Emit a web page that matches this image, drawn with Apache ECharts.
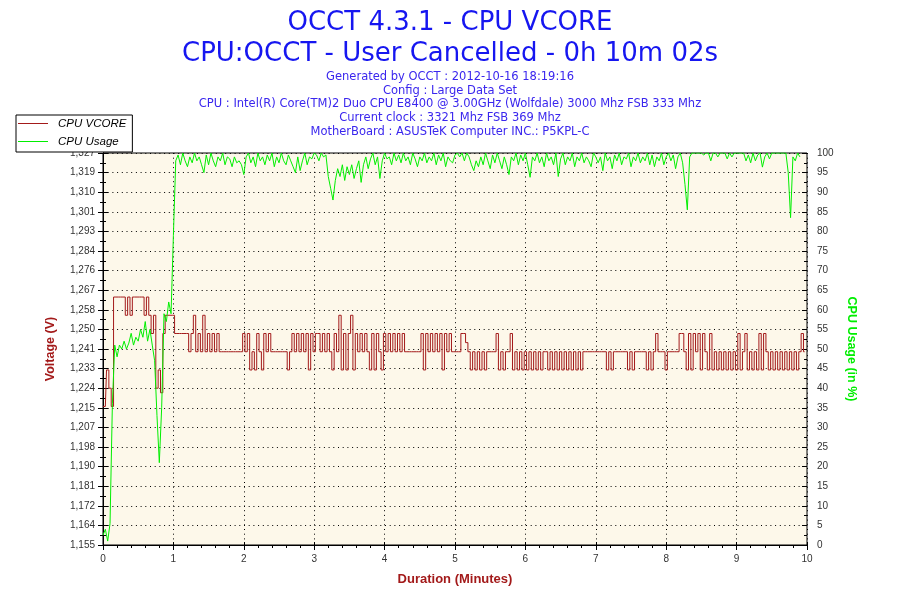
<!DOCTYPE html>
<html>
<head>
<meta charset="utf-8">
<script src="https://cdn.jsdelivr.net/npm/echarts@6/dist/echarts.min.js"></script>
<style>
html,body{margin:0;padding:0;background:#fff;}
#chart{width:900px;height:600px;}
</style>
</head>
<body>
<div id="chart"></div>
<script>
// ---- Data ----
const titleLines = ['OCCT 4.3.1 - CPU VCORE', 'CPU:OCCT - User Cancelled - 0h 10m 02s'];
const infoLines = [
  'Generated by OCCT : 2012-10-16 18:19:16',
  'Config : Large Data Set',
  'CPU : Intel(R) Core(TM)2 Duo CPU E8400 @ 3.00GHz (Wolfdale) 3000 Mhz FSB 333 Mhz',
  'Current clock : 3321 Mhz FSB 369 Mhz',
  'MotherBoard : ASUSTeK Computer INC.: P5KPL-C'
];
const seriesNames = ['CPU VCORE', 'CPU Usage'];
const sampleSeconds = 2;   // one reading every 2 seconds
const xTickLabels = ['0','1','2','3','4','5','6','7','8','9','10'];
const voltTickLabels = ['1,155','1,164','1,172','1,181','1,190','1,198','1,207','1,215','1,224','1,233',
  '1,241','1,250','1,258','1,267','1,276','1,284','1,293','1,301','1,310','1,319','1,327'];
const voltMin = 1.1552, voltMax = 1.3272, voltStep = 0.0086;
const usageTickLabels = ['0','5','10','15','20','25','30','35','40','45','50','55','60','65','70','75','80','85','90','95','100'];

// CPU VCORE (V)
const vcore = [
  1.216,1.216,1.232,1.224,1.216,1.264,1.264,1.264,1.264,1.264,
  1.256,1.264,1.256,1.264,1.264,1.264,1.264,1.264,1.256,1.264,
  1.256,1.248,1.256,1.224,1.232,1.222,1.248,1.256,1.256,1.256,
  1.256,1.248,1.248,1.248,1.248,1.248,1.248,1.240,1.248,1.256,
  1.240,1.248,1.240,1.256,1.240,1.248,1.240,1.248,1.240,1.248,
  1.240,1.240,1.240,1.240,1.240,1.240,1.240,1.240,1.240,1.240,
  1.248,1.240,1.248,1.232,1.240,1.232,1.248,1.240,1.232,1.248,
  1.240,1.248,1.240,1.240,1.240,1.240,1.240,1.240,1.240,1.232,
  1.240,1.248,1.240,1.248,1.240,1.248,1.240,1.248,1.232,1.248,
  1.240,1.248,1.248,1.240,1.248,1.240,1.248,1.240,1.232,1.248,
  1.240,1.256,1.232,1.248,1.232,1.248,1.256,1.232,1.248,1.240,
  1.248,1.240,1.248,1.240,1.232,1.248,1.232,1.248,1.240,1.232,
  1.248,1.240,1.248,1.240,1.248,1.240,1.248,1.240,1.248,1.240,
  1.240,1.240,1.240,1.240,1.240,1.240,1.248,1.232,1.248,1.240,
  1.248,1.240,1.248,1.240,1.248,1.232,1.248,1.240,1.248,1.240,
  1.240,1.240,1.240,1.248,1.248,1.244,1.240,1.232,1.240,1.232,
  1.240,1.232,1.240,1.232,1.240,1.240,1.240,1.240,1.248,1.232,
  1.240,1.232,1.240,1.240,1.248,1.232,1.240,1.232,1.240,1.232,
  1.240,1.232,1.240,1.232,1.240,1.232,1.240,1.232,1.240,1.240,
  1.232,1.240,1.232,1.240,1.232,1.240,1.232,1.240,1.232,1.240,
  1.232,1.240,1.232,1.240,1.232,1.240,1.240,1.240,1.240,1.240,
  1.240,1.240,1.240,1.240,1.240,1.232,1.240,1.232,1.240,1.240,
  1.240,1.240,1.240,1.240,1.232,1.240,1.232,1.240,1.240,1.240,
  1.240,1.240,1.232,1.240,1.232,1.240,1.248,1.240,1.240,1.240,
  1.232,1.240,1.240,1.240,1.240,1.240,1.248,1.248,1.240,1.232,
  1.248,1.232,1.248,1.240,1.248,1.232,1.248,1.240,1.232,1.248,
  1.232,1.240,1.232,1.240,1.232,1.240,1.232,1.240,1.232,1.240,
  1.232,1.248,1.232,1.240,1.248,1.232,1.240,1.232,1.240,1.232,
  1.248,1.232,1.248,1.240,1.232,1.240,1.232,1.240,1.232,1.240,
  1.232,1.240,1.232,1.240,1.232,1.240,1.232,1.240,1.248,1.240
];

// CPU Usage (%)
const usage = [
  2.5,4,1,5.5,36,51,48,51,50,52,
  50,51.5,54,51,53,52,55,53,57,52,
  55,51,47,33,21,35,59,57,62,59,
  79,98,99.5,97,100,98,96.5,99,97.5,100,
  98,99,97,95,99.5,97,100,98,96.5,99,
  98,100,97,99,98.5,96.5,99,97.5,98,97,
  94.5,99,100,97.5,99,96.5,100,98,99,97,
  99.5,98,100,96.5,99,97.5,100,98,97,99.5,
  98,96.5,95,99,95.5,98,100,97,99,98.5,
  100,99.5,98,100,99,99.5,94,91,88,93,
  96,94,97,93,96.5,94.5,97,93.5,96,98,
  92.5,97,99,96,98.5,100,97,99,93.5,98,
  100,98.5,99,97,100,98,99.5,97.5,100,98,
  99,97,100,98.5,96.5,99,98,100,97.5,99,
  98,100,97,99.5,98,100,96.5,99,98,97.5,
  99.5,100,99,100,98,100,99,97,95.5,98,
  96.5,99,97,100,98,96,99.5,97.5,100,98,
  96,99,97,94.5,99,98,100,97,99.5,98,
  100,97,93.8,99,98,100,97.5,99,96.5,100,
  98,99,97,100,94,98.5,100,97,99,98,
  100,96.5,99,98,100,97.5,99,98,96.5,100,
  99,97.5,99,95.5,100,98,99,96,99.5,98,
  100,97,99,98.5,100,96.5,99,98,100,97.5,
  99,98,100,97,99.5,96.5,99,98,100,97,
  99,100,98,99.5,96,99,100,97.5,92,85.5,
  99,100,100,100,100,100,99.5,100,100,98,
  100,100,99,100,100,100,98.5,100,99,100,
  100,100,100,100,98,99.5,97.5,100,98,99.5,
  100,96.4,99,100,98.5,100,100,100,100,100,
  100,100,95,83.5,99,98,100,99
];

// ---- Build chart ----
const toMinutes = i => i * sampleSeconds / 60;
const vcoreData = vcore.map((v, i) => [toMinutes(i), v]);
const usageData = usage.map((v, i) => [toMinutes(i), v]);

const red = '#a31a1a';
const green = '#00ee00';
const labelFont = 'Liberation Sans';
const dotted = { type: [1, 3.7], color: '#000', width: 1 };

const chart = echarts.init(document.getElementById('chart'), null, { renderer: 'canvas' });
chart.setOption({
  animation: false,
  backgroundColor: '#ffffff',
  title: [
    {
      text: titleLines.join('\n'),
      left: 'center', top: 3,
      textStyle: { fontFamily: 'DejaVu Sans', fontSize: 26, fontWeight: 'normal', color: '#1616f0', lineHeight: 31 }
    },
    {
      text: infoLines.join('\n'),
      left: 'center', top: 65,
      textStyle: { fontFamily: 'DejaVu Sans', fontSize: 11.5, fontWeight: 'normal', color: '#3a26ee', lineHeight: 13.8 }
    }
  ],
  legend: {
    data: seriesNames,
    orient: 'vertical',
    left: 16, top: 115,
    backgroundColor: '#ffffff',
    borderColor: '#000', borderWidth: 1, borderRadius: 0,
    padding: [2, 6, 4, 2],
    itemGap: 5,
    itemWidth: 30, itemHeight: 1,
    icon: 'rect',
    textStyle: { fontFamily: labelFont, fontSize: 11.5, fontStyle: 'italic', color: '#000',
      padding: [0, 0, 0, 5], lineHeight: 13 },
    z: 10
  },
  grid: {
    left: 103, right: 93, top: 153, bottom: 55,
    show: true, backgroundColor: '#fdf8ea', borderColor: '#000', borderWidth: 1
  },
  xAxis: [
    {
      type: 'value', min: 0, max: 10, interval: 1,
      position: 'bottom',
      name: 'Duration (Minutes)', nameLocation: 'middle', nameGap: 28,
      nameTextStyle: { fontFamily: labelFont, fontSize: 13, fontWeight: 'bold', color: red },
      axisLine: { show: true, lineStyle: { color: '#000', width: 1 } },
      axisTick: { show: true, length: 5, lineStyle: { color: '#000' } },
      minorTick: { show: true, splitNumber: 5, length: 3, lineStyle: { color: '#000' } },
      axisLabel: { margin: 9, fontFamily: labelFont, fontSize: 10, color: '#333',
        formatter: (v, i) => xTickLabels[i] },
      splitLine: { show: true, lineStyle: dotted }
    },
    {
      type: 'value', min: 0, max: 10, interval: 1, position: 'bottom',
      axisLine: { show: false },
      axisTick: { show: true, inside: true, length: 3, lineStyle: { color: '#000' } },
      axisLabel: { show: false }, splitLine: { show: false }
    }
  ],
  yAxis: [
    {
      type: 'value', min: voltMin, max: voltMax, interval: voltStep,
      position: 'left',
      name: 'Voltage (V)', nameLocation: 'middle', nameGap: 46,
      nameTextStyle: { fontFamily: labelFont, fontSize: 12.5, fontWeight: 'bold', color: red },
      axisLine: { show: true, lineStyle: { color: '#000', width: 1 } },
      axisTick: { show: true, length: 5, lineStyle: { color: '#000' } },
      minorTick: { show: true, splitNumber: 2, length: 3, lineStyle: { color: '#000' } },
      axisLabel: { margin: 8, fontFamily: labelFont, fontSize: 10, color: '#333',
        formatter: (v, i) => voltTickLabels[i] },
      splitLine: { show: true, lineStyle: dotted }
    },
    {
      type: 'value', min: 0, max: 100, interval: 5,
      position: 'right',
      name: 'CPU Usage (in %)', nameLocation: 'middle', nameGap: 34, nameRotate: -90,
      nameTextStyle: { fontFamily: labelFont, fontSize: 12.5, fontWeight: 'bold', color: green },
      axisLine: { show: true, lineStyle: { color: '#000', width: 1 } },
      axisTick: { show: true, length: 5, lineStyle: { color: '#000' } },
      minorTick: { show: true, splitNumber: 2, length: 3, lineStyle: { color: '#000' } },
      axisLabel: { margin: 10, fontFamily: labelFont, fontSize: 10, color: '#333',
        formatter: (v, i) => usageTickLabels[i] },
      splitLine: { show: false }
    },
    {
      type: 'value', min: voltMin, max: voltMax, interval: voltStep, position: 'left',
      axisLine: { show: false },
      axisTick: { show: true, inside: true, length: 5, lineStyle: { color: '#000' } },
      minorTick: { show: true, splitNumber: 2, length: 3, lineStyle: { color: '#000' } },
      axisLabel: { show: false }, splitLine: { show: false }
    },
    {
      type: 'value', min: 0, max: 100, interval: 5, position: 'right',
      axisLine: { show: false },
      axisTick: { show: true, inside: true, length: 5, lineStyle: { color: '#000' } },
      minorTick: { show: true, splitNumber: 2, length: 3, lineStyle: { color: '#000' } },
      axisLabel: { show: false }, splitLine: { show: false }
    }
  ],
  series: [
    {
      name: seriesNames[0], type: 'line', xAxisIndex: 0, yAxisIndex: 0,
      data: vcoreData, step: 'middle', showSymbol: false, symbol: 'none',
      color: red, lineStyle: { color: red, width: 1 }, z: 2
    },
    {
      name: seriesNames[1], type: 'line', xAxisIndex: 0, yAxisIndex: 1,
      data: usageData, showSymbol: false, symbol: 'none',
      color: green, lineStyle: { color: green, width: 1 }, z: 3
    }
  ]
});
</script>
</body>
</html>
